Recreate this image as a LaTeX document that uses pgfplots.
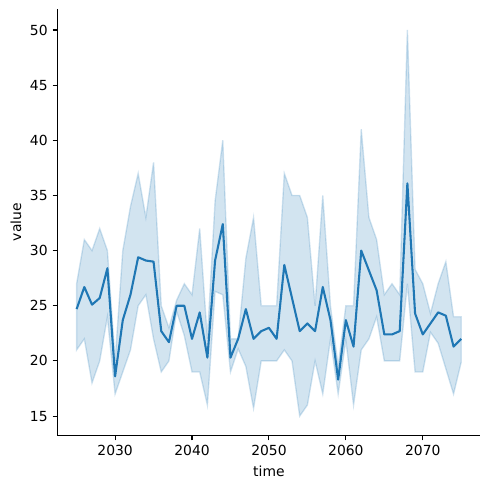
\documentclass[border=0pt]{standalone}
\usepackage{pgfplots}
\pgfplotsset{compat=1.18}
\usepackage{pgfplotstable}
\usepgfplotslibrary{fillbetween}
\usepackage{fontspec}
\setmainfont{DejaVu Sans}
\definecolor{c0}{HTML}{1F77B4}
\pgfplotstableread{
t mean lo hi
2025 24.7 21.0 27.0
2026 26.7 22.0 31.0
2027 25.1 18.0 30.0
2028 25.7 20.0 32.0
2029 28.4 24.0 30.0
2030 18.6 17.0 20.0
2031 23.7 19.0 30.0
2032 26.0 21.0 34.0
2033 29.4 25.0 37.0
2034 29.1 26.0 33.0
2035 29.0 22.0 38.0
2036 22.7 19.0 25.0
2037 21.7 20.0 23.0
2038 25.0 24.5 25.5
2039 25.0 22.3 27.0
2040 22.0 19.0 26.0
2041 24.4 19.0 32.0
2042 20.3 16.0 22.0
2043 29.1 26.3 34.5
2044 32.4 26.0 40.0
2045 20.3 19.0 22.0
2046 22.0 21.1 22.0
2047 24.7 19.5 29.3
2048 22.0 15.7 33.0
2049 22.7 20.0 25.0
2050 23.0 20.0 25.0
2051 22.0 20.0 25.0
2052 28.7 21.0 37.0
2053 25.7 20.0 35.0
2054 22.7 15.0 35.0
2055 23.4 16.0 33.0
2056 22.7 20.0 25.0
2057 26.7 17.0 35.0
2058 23.7 22.0 25.0
2059 18.3 17.0 19.5
2060 23.7 21.9 25.0
2061 21.3 16.0 25.0
2062 30.0 21.0 41.0
2063 28.2 22.0 33.0
2064 26.4 24.0 31.0
2065 22.4 20.0 26.0
2066 22.4 20.0 27.0
2067 22.7 20.0 26.0
2068 36.1 27.0 50.0
2069 24.3 19.0 28.3
2070 22.4 19.0 27.0
2071 23.4 22.6 24.3
2072 24.4 21.6 27.0
2073 24.1 19.3 29.0
2074 21.3 17.0 24.0
2075 22.0 19.9 24.0
}\datatable
\begin{document}
\begin{tikzpicture}
\begin{axis}[
  at={(0pt,0pt)}, anchor=south west,
  scale only axis,
  width=304.6pt, height=307pt,
  xmin=2022.5, xmax=2077.5,
  ymin=13.25, ymax=51.9,
  axis lines*=left,
  axis line style={line width=0.8pt},
  tick align=outside,
  tick style={line width=0.8pt, black},
  major tick length=3.5pt,
  xtick={2030,2040,2050,2060,2070},
  ytick={15,20,25,30,35,40,45,50},
  x tick label style={/pgf/number format/1000 sep={}},
  /pgf/number format/assume math mode=true,
  tick label style={font=\fontsize{10}{12}\selectfont},
  label style={font=\fontsize{10}{12}\selectfont},
  xlabel={time}, ylabel={value},
  xlabel style={yshift=-0.3pt},
  ylabel style={yshift=-0.6pt},
]
\addplot[draw=none, name path=U] table[x=t, y=hi] {\datatable};
\addplot[draw=none, name path=L] table[x=t, y=lo] {\datatable};
\addplot[fill=c0, fill opacity=0.2, draw=c0, draw opacity=0.2, line width=1pt] fill between[of=U and L];
\addplot[c0, line width=1.5pt, line join=round] table[x=t, y=mean] {\datatable};
\end{axis}
\pgfresetboundingbox
\path (-41.33pt,-38.59pt) rectangle (311.47pt,313.49pt);
\end{tikzpicture}
\end{document}
